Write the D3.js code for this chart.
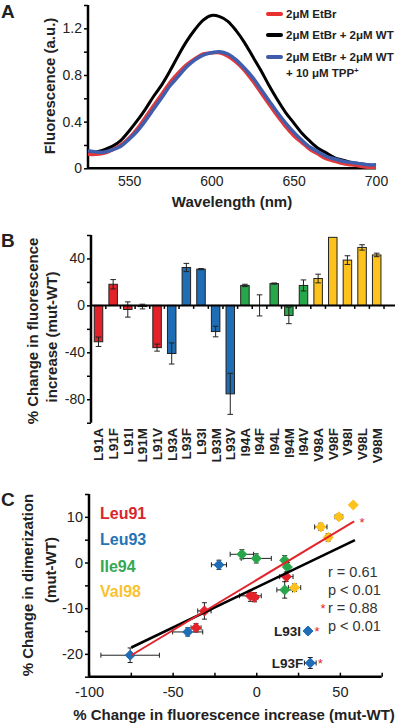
<!DOCTYPE html>
<html><head><meta charset="utf-8">
<script src="https://cdn.jsdelivr.net/npm/d3@7"></script>
<style>body{margin:0;background:#fff}svg{display:block;font-family:"Liberation Sans",Arial,sans-serif}</style>
</head><body>
<svg id="c" width="400" height="724"></svg>
<script>
// ---------- Panel A data ----------
const wavelengths = [525,530,535,540,545,550,555,560,565,570,575,580,585,590,595,600,605,610,615,620,625,630,635,640,645,650,655,660,665,670,675,680,685,690,695,700];
const fluorEtBr   = [0.12,0.12,0.13,0.16,0.20,0.26,0.34,0.44,0.54,0.64,0.74,0.82,0.89,0.94,0.98,0.99,0.99,0.96,0.91,0.84,0.75,0.65,0.55,0.45,0.36,0.28,0.22,0.16,0.12,0.08,0.06,0.04,0.03,0.02,0.01,0.01];
const fluorWT     = [0.13,0.14,0.16,0.19,0.24,0.32,0.41,0.51,0.62,0.72,0.84,0.97,1.09,1.19,1.27,1.31,1.30,1.26,1.18,1.08,0.96,0.84,0.71,0.59,0.48,0.39,0.30,0.23,0.17,0.13,0.09,0.07,0.05,0.04,0.03,0.02];
const fluorTPP    = [0.15,0.14,0.14,0.16,0.19,0.25,0.32,0.41,0.51,0.61,0.71,0.79,0.87,0.93,0.97,0.99,1.00,0.98,0.93,0.86,0.78,0.68,0.58,0.48,0.39,0.31,0.24,0.18,0.14,0.10,0.08,0.06,0.05,0.04,0.03,0.03];
const seriesNamesA = ["2μM EtBr","2μM EtBr + 2μM WT","2μM EtBr + 2μM WT"];
const xTicksA = [550,600,650,700];
const yTicksA = [0,0.4,0.8,1.2];

// ---------- Panel B data ----------
const mutants   = ["L91A","L91F","L91I","L91M","L91V","L93A","L93F","L93I","L93M","L93V","I94A","I94F","I94L","I94M","I94V","V98A","V98F","V98I","V98L","V98M"];
const groups    = ["Leu91","Leu91","Leu91","Leu91","Leu91","Leu93","Leu93","Leu93","Leu93","Leu93","Ile94","Ile94","Ile94","Ile94","Ile94","Val98","Val98","Val98","Val98","Val98"];
const fluorChange = [-31,18,-3.5,-1,-36,-41,32.3,30.9,-22.3,-75.4,17,0,18.6,-8.6,17,22.9,58,38.6,49.4,43];
const fluorErr    = [4,4,6.5,2,3,9,3.5,0.5,4.5,17.5,1,9,0.5,7,4.7,3.7,0,3.7,2.3,1.5];
const yTicksB = [40,0,-40,-80];

// ---------- Panel C data ----------
const dimerChange = [-10.6,-3.1,-7.3,-7.6,-14.3,-15.2,-22,-15,-0.5,-20.3,0.5,0.9,-1,1.8,-6,-5.5,12.6,7.8,10,5.5];
const dimerErr    = [1.8,1.0,1.2,1.0,0.9,0.9,1.2,0.6,1.0,1.6,1.0,1.0,1.0,1.0,1.8,0.8,0,0.8,0.6,0.8];
const groupNames = ["Leu91","Leu93","Ile94","Val98"];
const fitAll   = [[-74.7,-18.6],[59,4.9]];
const fitNoL93 = [[-74.7,-20.3],[58.5,9.0]];
const statsText = ["r = 0.61","p < 0.01","r = 0.88","p < 0.01"];
const xTicksC = [-100,-50,0,50];
const yTicksC = [10,0,-10,-20];

const groupColor = {Leu91:"#e4222a",Leu93:"#1f6db5",Ile94:"#28a64a",Val98:"#fdc21b"};
const labelColor = {Leu91:"#d8262c",Leu93:"#2474b5",Ile94:"#34a852",Val98:"#fac231"};

const svg = d3.select("#c");
const txt = "#222";

function panelLetter(t,x,y){svg.append("text").attr("x",x).attr("y",y).attr("font-size",19).attr("font-weight","bold").attr("fill",txt).text(t);}

// ================= Panel A =================
{
  const x = d3.scaleLinear().domain([525,700]).range([88,376]);
  const y = d3.scaleLinear().domain([0,1.4]).range([168.3,5]);
  panelLetter("A",1,18);
  const g = svg.append("g");
  const ya = g.append("g").attr("transform","translate(88,0)")
    .call(d3.axisLeft(y).tickValues(d3.range(0,1.41,0.2)).tickSize(4).tickFormat(d=>yTicksA.some(v=>Math.abs(v-d)<1e-6)? (d===0?"0":d3.format(".1f")(d)) : ""));
  ya.select(".domain").attr("stroke","#000").attr("stroke-width",2.5).attr("d","M0,5V168.3");
  ya.selectAll(".tick line").attr("stroke","#000").attr("stroke-width",1.5);
  ya.selectAll(".tick text").attr("font-size",14).attr("fill",txt).attr("x",-6);
  const xa = g.append("g").attr("transform","translate(0,168.3)")
    .call(d3.axisBottom(x).tickValues(xTicksA).tickSize(0).tickPadding(8));
  xa.select(".domain").attr("stroke","#000").attr("stroke-width",2.5).attr("d","M88,0H376");
  xa.selectAll(".tick text").attr("font-size",14).attr("fill",txt);
  const line = d3.line().x((d,i)=>x(wavelengths[i])).y(d=>y(d)).curve(d3.curveCatmullRom);
  g.append("path").attr("d",line(fluorWT)).attr("fill","none").attr("stroke","#000").attr("stroke-width",3);
  g.append("path").attr("d",line(fluorEtBr)).attr("fill","none").attr("stroke","#e23a3c").attr("stroke-width",3.5);
  g.append("path").attr("d",line(fluorTPP)).attr("fill","none").attr("stroke","#3f5eae").attr("stroke-width",3.5);
  g.append("text").attr("transform","translate(55,86) rotate(-90)").attr("text-anchor","middle").attr("font-size",15).attr("font-weight","bold").attr("fill",txt).text("Fluorescence (a.u.)");
  g.append("text").attr("x",232).attr("y",207).attr("text-anchor","middle").attr("font-size",15).attr("font-weight","bold").attr("fill",txt).text("Wavelength (nm)");
  const legCols = ["#e8302f","#000","#3f5ba9"];
  const legY = [14,35,57];
  seriesNamesA.forEach((n,i)=>{
    g.append("line").attr("x1",268).attr("x2",281).attr("y1",legY[i]).attr("y2",legY[i]).attr("stroke",legCols[i]).attr("stroke-width",4).attr("stroke-linecap","round");
    g.append("text").attr("x",286).attr("y",legY[i]).attr("dy","0.36em").attr("font-size",11.5).attr("font-weight","bold").attr("fill",txt).text(n);
  });
  const t = g.append("text").attr("x",286).attr("y",72.5).attr("dy","0.36em").attr("font-size",11.5).attr("font-weight","bold").attr("fill",txt);
  t.append("tspan").text("+ 10 μM TPP");
  t.append("tspan").attr("dy","-0.4em").attr("font-size",8).text("+");
}

// ================= Panel B =================
{
  const x = d3.scalePoint().domain(mutants).range([98.5,376.7]);
  const step = x.step();
  const y = d3.scaleLinear().domain([-100,60]).range([422.7,235]);
  panelLetter("B",1,247);
  const g = svg.append("g");
  const bw = 8.5;
  g.selectAll("rect.bar").data(mutants).enter().append("rect")
    .attr("x",d=>x(d)-bw/2).attr("width",bw)
    .attr("y",(d,i)=>y(Math.max(0,fluorChange[i])))
    .attr("height",(d,i)=>Math.abs(y(fluorChange[i])-y(0)))
    .attr("fill",(d,i)=>groupColor[groups[i]]).attr("stroke","#222").attr("stroke-width",1);
  mutants.forEach((m,i)=>{
    const e = fluorErr[i]; if(!e) return;
    const v = fluorChange[i], cx = x(m);
    const eg = g.append("g").attr("stroke","#222").attr("stroke-width",1);
    eg.append("line").attr("x1",cx).attr("x2",cx).attr("y1",y(v-e)).attr("y2",y(v+e));
    eg.append("line").attr("x1",cx-2.8).attr("x2",cx+2.8).attr("y1",y(v-e)).attr("y2",y(v-e));
    eg.append("line").attr("x1",cx-2.8).attr("x2",cx+2.8).attr("y1",y(v+e)).attr("y2",y(v+e));
  });
  const ya = g.append("g").attr("transform","translate(91,0)")
    .call(d3.axisLeft(y).tickValues(d3.range(-100,61,20)).tickSize(4).tickFormat(d=>yTicksB.includes(d)?d:""));
  ya.select(".domain").attr("stroke","#000").attr("stroke-width",2.5).attr("d","M0,235V422.7");
  ya.selectAll(".tick line").attr("stroke","#000").attr("stroke-width",1.5);
  ya.selectAll(".tick text").attr("font-size",14).attr("fill",txt).attr("x",-6);
  const za = g.append("g").attr("transform",`translate(0,${y(0)})`);
  za.append("line").attr("x1",91).attr("x2",395).attr("stroke","#000").attr("stroke-width",2);
  const bounds = mutants.map(m=>x(m)+step/2);
  za.selectAll("line.tk").data(bounds).enter().append("line").attr("x1",d=>d).attr("x2",d=>d).attr("y1",0).attr("y2",3.5).attr("stroke","#000").attr("stroke-width",1.5);
  g.selectAll("text.xl").data(mutants).enter().append("text")
    .attr("transform",d=>`translate(${x(d)},428) rotate(-90)`)
    .attr("text-anchor","end").attr("dy","0.36em").attr("font-size",13.5).attr("font-weight","bold").attr("fill",txt).text(d=>d);
  g.append("text").attr("transform","translate(33,331) rotate(-90)").attr("text-anchor","middle").attr("dy","0.36em").attr("font-size",15).attr("font-weight","bold").attr("fill",txt).text("% Change in fluorescence");
  g.append("text").attr("transform","translate(52,337) rotate(-90)").attr("text-anchor","middle").attr("dy","0.36em").attr("font-size",15).attr("font-weight","bold").attr("fill",txt).text("increase (mut-WT)");
}

// ================= Panel C =================
{
  const x = d3.scaleLinear().domain([-100,75]).range([89,381.7]);
  const y = d3.scaleLinear().domain([-25,15]).range([676.7,494]);
  panelLetter("C",1,506);
  const g = svg.append("g");
  const ya = g.append("g").attr("transform","translate(89,0)")
    .call(d3.axisLeft(y).tickValues(d3.range(-25,16,5)).tickSize(4).tickFormat(d=>yTicksC.includes(d)?d:""));
  ya.select(".domain").attr("stroke","#000").attr("stroke-width",2.5).attr("d","M0,494V676.7");
  ya.selectAll(".tick line").attr("stroke","#000").attr("stroke-width",1.5);
  ya.selectAll(".tick text").attr("font-size",14.5).attr("fill",txt).attr("x",-6);
  const xa = g.append("g").attr("transform","translate(0,676.7)")
    .call(d3.axisBottom(x).tickValues(d3.range(-100,76,25)).tickSizeInner(-4).tickSizeOuter(0).tickPadding(10).tickFormat(d=>xTicksC.includes(d)?d:""));
  xa.select(".domain").attr("stroke","#000").attr("stroke-width",2.5).attr("d","M89,0H381.7");
  xa.selectAll(".tick line").attr("stroke","#000").attr("stroke-width",1.5);
  xa.selectAll(".tick text").attr("font-size",14.5).attr("fill",txt);
  mutants.forEach((m,i)=>{
    const cx = x(fluorChange[i]), cy = y(dimerChange[i]);
    const eg = g.append("g").attr("stroke","#222").attr("stroke-width",1);
    const ex = fluorErr[i], ey = dimerErr[i];
    if(ex){
      eg.append("line").attr("x1",x(fluorChange[i]-ex)).attr("x2",x(fluorChange[i]+ex)).attr("y1",cy).attr("y2",cy);
      [fluorChange[i]-ex,fluorChange[i]+ex].forEach(v=>eg.append("line").attr("x1",x(v)).attr("x2",x(v)).attr("y1",cy-2.5).attr("y2",cy+2.5));
    }
    if(ey){
      eg.append("line").attr("x1",cx).attr("x2",cx).attr("y1",y(dimerChange[i]-ey)).attr("y2",y(dimerChange[i]+ey));
      [dimerChange[i]-ey,dimerChange[i]+ey].forEach(v=>eg.append("line").attr("x1",cx-2.5).attr("x2",cx+2.5).attr("y1",y(v)).attr("y2",y(v)));
    }
  });
  const r = 5;
  g.selectAll("path.pt").data(mutants).enter().append("path")
    .attr("d",(d,i)=>{const cx=x(fluorChange[i]),cy=y(dimerChange[i]);return `M${cx},${cy-r}L${cx+r},${cy}L${cx},${cy+r}L${cx-r},${cy}Z`;})
    .attr("fill",(d,i)=>groupColor[groups[i]]).attr("stroke",(d,i)=>groupColor[groups[i]]).attr("stroke-width",1).attr("stroke-linejoin","round");
  const ln = d3.line().x(d=>x(d[0])).y(d=>y(d[1]));
  g.append("path").attr("d",ln(fitAll)).attr("stroke","#000").attr("stroke-width",2.6).attr("fill","none");
  g.append("path").attr("d",ln(fitNoL93)).attr("stroke","#e4242b").attr("stroke-width",2).attr("fill","none");
  const star = (px,py)=>g.append("text").attr("x",px).attr("y",py).attr("dy","0.7em").attr("text-anchor","middle").attr("font-size",13).attr("fill","#e4242b").text("*");
  star(x(fitNoL93[1][0])+8, y(fitNoL93[1][1])-4);
  star(x(fluorChange[7])+9, y(dimerChange[7])-4);
  star(x(fluorChange[6])+10, y(dimerChange[6])-4);
  star(323, 604);
  g.append("text").attr("x",x(fluorChange[7])-7).attr("y",y(dimerChange[7])).attr("dy","0.36em").attr("text-anchor","end").attr("font-size",13.5).attr("font-weight","bold").attr("fill",txt).text("L93I");
  g.append("text").attr("x",x(fluorChange[6])-7).attr("y",y(dimerChange[6])).attr("dy","0.36em").attr("text-anchor","end").attr("font-size",13.5).attr("font-weight","bold").attr("fill",txt).text("L93F");
  const statsY = [572,590,608,626];
  statsText.forEach((s,i)=>g.append("text").attr("x",328).attr("y",statsY[i]).attr("dy","0.36em").attr("font-size",14.5).attr("fill","#333").text(s));
  const legY = [513.3,539.3,566.7,591.7];
  groupNames.forEach((n,i)=>g.append("text").attr("x",100).attr("y",legY[i]).attr("dy","0.36em").attr("font-size",16).attr("font-weight","bold").attr("fill",labelColor[n]).text(n));
  g.append("text").attr("transform","translate(28,585) rotate(-90)").attr("text-anchor","middle").attr("dy","0.36em").attr("font-size",15).attr("font-weight","bold").attr("fill",txt).text("% Change in dimerization");
  g.append("text").attr("transform","translate(51,570) rotate(-90)").attr("text-anchor","middle").attr("dy","0.36em").attr("font-size",15).attr("font-weight","bold").attr("fill",txt).text("(mut-WT)");
  g.append("text").attr("x",234).attr("y",715).attr("dy","0.36em").attr("text-anchor","middle").attr("font-size",15).attr("font-weight","bold").attr("fill",txt).text("% Change in fluorescence increase (mut-WT)");
}
</script>
</body></html>
